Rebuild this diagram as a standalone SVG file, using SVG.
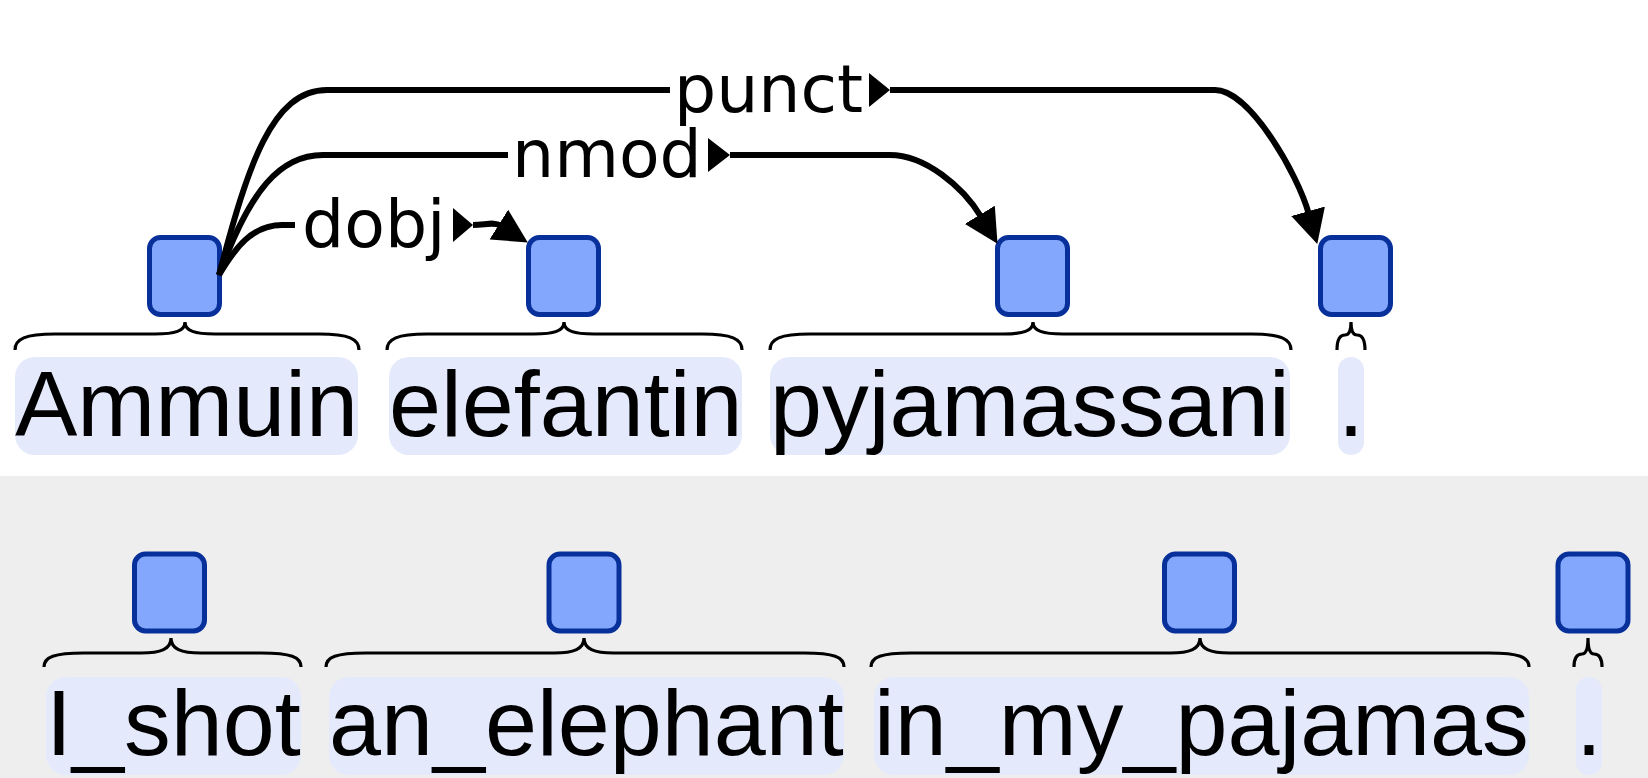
<svg xmlns="http://www.w3.org/2000/svg" width="1648" height="778" viewBox="0 0 1648 778">
<style>
.box{fill:#82a7fc;stroke:#08309a;stroke-width:5}
.bg{fill:#e4eafb}
.brace{fill:none;stroke:#000;stroke-width:3.2}
.word{font-family:"Liberation Sans",Arial,sans-serif;font-size:93.5px;fill:#000}
.edge{fill:none;stroke:#000;stroke-width:6}
.lbl{font-family:"DejaVu Sans",sans-serif;font-size:66.5px;fill:#000}
.tri{fill:#000}
</style>
<defs>
<marker id="arrow" markerUnits="userSpaceOnUse" viewBox="0 0 35 35" markerWidth="35" markerHeight="35" refX="2" refY="17.5" orient="auto">
<path d="M0,0 L34,17.5 L0,35 z" fill="#000"/>
</marker>
</defs>
<rect x="0" y="0" width="1648" height="476" fill="#ffffff"/>
<rect x="0" y="476" width="1648" height="302" fill="#eeeeee"/>

<g id="top-ammuin">
<rect class="bg" x="15" y="357" width="343" height="98" rx="20"/>
<path class="brace" d="M15,350 C15,339 25,334 55,334 L155,334 C175,334 185,331 185,322 C185,331 195,334 215,334 L319,334 C349,334 359,339 359,350"/>
<rect class="box" x="149.5" y="237.5" width="70" height="77" rx="11"/>
<text class="word" x="15" y="436">Ammuin</text>
</g>
<g id="top-elefantin">
<rect class="bg" x="389" y="357" width="353" height="98" rx="20"/>
<path class="brace" d="M387,350 C387,339 397,334 427,334 L534,334 C554,334 564,331 564,322 C564,331 574,334 594,334 L702,334 C732,334 742,339 742,350"/>
<rect class="box" x="528.5" y="237.5" width="70" height="77" rx="11"/>
<text class="word" x="389" y="436">elefantin</text>
</g>
<g id="top-pyjamassani">
<rect class="bg" x="770" y="357" width="520" height="98" rx="20"/>
<path class="brace" d="M770,350 C770,339 780,334 810,334 L1003,334 C1023,334 1033,331 1033,322 C1033,331 1043,334 1063,334 L1251,334 C1281,334 1291,339 1291,350"/>
<rect class="box" x="997.5" y="237.5" width="70" height="77" rx="11"/>
<text class="word" x="770" y="436">pyjamassani</text>
</g>
<g id="top-period">
<rect class="bg" x="1338" y="357" width="26" height="98" rx="13"/>
<path class="brace" d="M1337,350 C1337,340 1340,335 1345,335 C1349,335 1351,331 1351,322 C1351,331 1353,335 1357,335 C1362,335 1365,340 1365,350"/>
<rect class="box" x="1320.5" y="237.5" width="70" height="77" rx="11"/>
<text class="word" x="1338" y="436">.</text>
</g>

<g id="connectors">
<path class="edge" d="M219,275 C248,165 272,90 327,90 L670,90"/>
<path class="edge" d="M890,90 L1215,90 C1250,90 1297.8,174.8 1308.6,213.2" marker-end="url(#arrow)"/>
<polygon class="tri" points="869,73 890,90 869,107"/>
<text class="lbl" x="674" y="112">punct</text>
<path class="edge" d="M219,275 C250,190 280,155 323,155 L508,155"/>
<path class="edge" d="M730,155 L890,155 C925,155 962.7,186.6 980.9,216.5" marker-end="url(#arrow)"/>
<polygon class="tri" points="708,138 730,155 708,172"/>
<text class="lbl" x="512" y="177">nmod</text>
<path class="edge" d="M219,275 C235,248 252,225 282,225 L295,225"/>
<path class="edge" d="M473,225 C485,225 494,221.5 500.6,225.6" marker-end="url(#arrow)"/>
<polygon class="tri" points="453,208 473,225 453,242"/>
<text class="lbl" x="302" y="247">dobj</text>
</g>

<g id="bottom-i-shot">
<rect class="bg" x="46" y="677" width="255" height="98" rx="20"/>
<path class="brace" d="M44,667 C44,657 54,653 84,653 L141,653 C161,653 171,649 171,638 C171,649 181,653 201,653 L261,653 C291,653 301,657 301,667"/>
<rect class="box" x="134.5" y="554" width="70" height="77" rx="11"/>
<text class="word" x="46" y="755">I_shot</text>
</g>
<g id="bottom-an-elephant">
<rect class="bg" x="329" y="677" width="515" height="98" rx="20"/>
<path class="brace" d="M326,667 C326,657 336,653 366,653 L554,653 C574,653 584,649 584,638 C584,649 594,653 614,653 L804,653 C834,653 844,657 844,667"/>
<rect class="box" x="549" y="554" width="70" height="77" rx="11"/>
<text class="word" x="329" y="755">an_elephant</text>
</g>
<g id="bottom-in-my-pajamas">
<rect class="bg" x="874" y="677" width="655" height="98" rx="20"/>
<path class="brace" d="M871,667 C871,657 881,653 911,653 L1170,653 C1190,653 1200,649 1200,638 C1200,649 1210,653 1230,653 L1489,653 C1519,653 1529,657 1529,667"/>
<rect class="box" x="1164.5" y="554" width="70" height="77" rx="11"/>
<text class="word" x="874" y="755">in_my_pajamas</text>
</g>
<g id="bottom-period">
<rect class="bg" x="1576" y="677" width="26" height="98" rx="13"/>
<path class="brace" d="M1574,667 C1574,658 1577,654 1582,654 C1586,654 1588,649 1588,638 C1588,649 1590,654 1594,654 C1599,654 1602,658 1602,667"/>
<rect class="box" x="1558" y="554" width="70" height="77" rx="11"/>
<text class="word" x="1576" y="755">.</text>
</g>
</svg>
